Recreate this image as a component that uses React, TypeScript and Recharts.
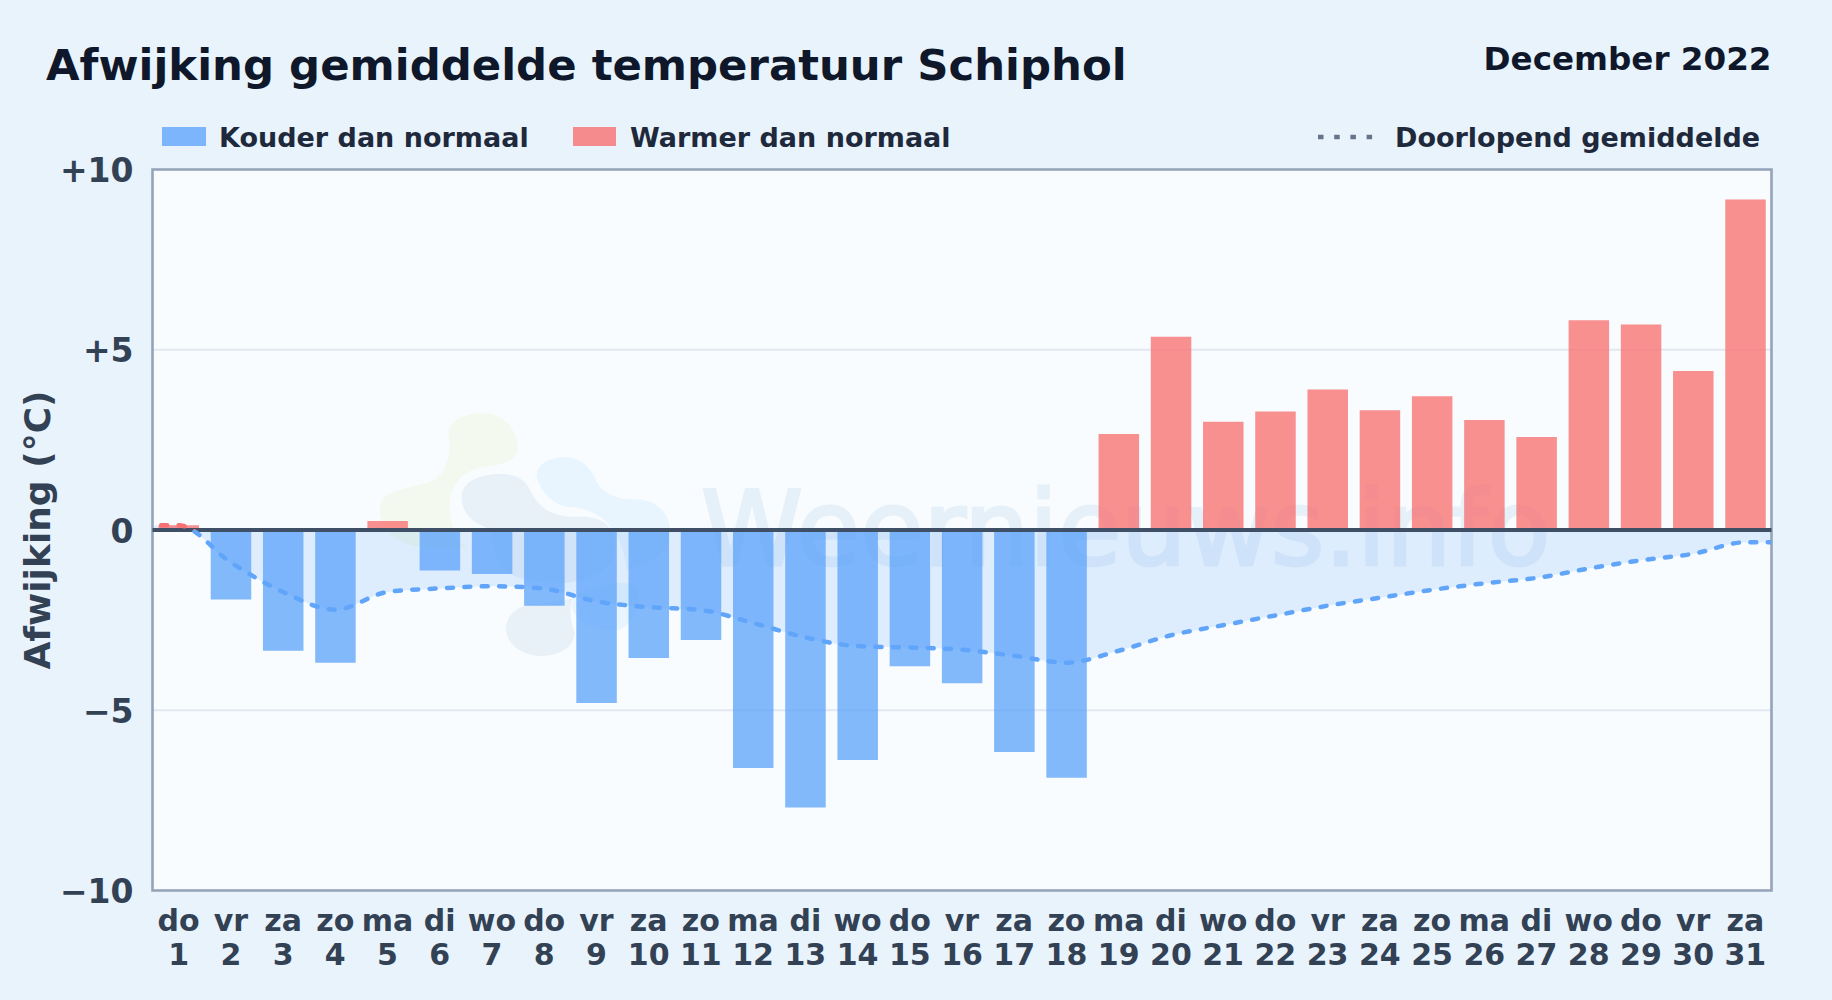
import { ComposedChart, Area, Bar, Line, Cell, XAxis, YAxis, CartesianGrid, ReferenceLine, ReferenceArea } from 'recharts'

const FONT = '"DejaVu Sans", sans-serif'
const BLUE = '#60a5fa'
const RED = '#f87171'

const weekdays = ['do', 'vr', 'za', 'zo', 'ma', 'di', 'wo', 'do', 'vr', 'za', 'zo', 'ma', 'di', 'wo', 'do', 'vr', 'za', 'zo', 'ma', 'di', 'wo', 'do', 'vr', 'za', 'zo', 'ma', 'di', 'wo', 'do', 'vr', 'za']
const days = [1, 2, 3, 4, 5, 6, 7, 8, 9, 10, 11, 12, 13, 14, 15, 16, 17, 18, 19, 20, 21, 22, 23, 24, 25, 26, 27, 28, 29, 30, 31]
const anomaly = [0.13, -1.93, -3.35, -3.68, 0.25, -1.12, -1.22, -2.1, -4.8, -3.55, -3.05, -6.6, -7.7, -6.38, -3.78, -4.25, -6.16, -6.87, 2.66, 5.36, 3.0, 3.29, 3.9, 3.32, 3.71, 3.05, 2.58, 5.82, 5.7, 4.41, 9.17]
const runningMean = [0.13, -0.9, -1.72, -2.21, -1.72, -1.62, -1.56, -1.63, -1.98, -2.14, -2.22, -2.58, -2.98, -3.22, -3.26, -3.32, -3.49, -3.68, -3.35, -2.92, -2.64, -2.37, -2.1, -1.88, -1.66, -1.48, -1.33, -1.07, -0.84, -0.66, -0.34]
const yTicks = [-10, -5, 0, 5, 10]

// extra rows outside the x domain so the running mean runs on to the plot edges (clipped there)
const rows = [
  { day: 0, mean: runningMean[0], value: null as number | null },
  ...days.map((day, i) => ({ day, mean: runningMean[i], value: anomaly[i] as number | null })),
  { day: 32, mean: runningMean[30], value: null as number | null },
]

const formatY = (v: number) => (v > 0 ? `+${v}` : v < 0 ? `\u2212${Math.abs(v)}` : '0')

function DayTick({ x, y, payload }: any) {
  return (
    <text x={x} textAnchor="middle" fontFamily={FONT} fontWeight="bold" fontSize={30} fill="#334155">
      <tspan x={x} y={y + 32}>{weekdays[payload.value - 1]}</tspan>
      <tspan x={x} y={y + 66}>{payload.value}</tspan>
    </text>
  )
}

function Watermark() {
  return (
    <svg width={1832} height={1000} style={{ position: 'absolute', left: 0, top: 0 }}>
      <g transform="translate(360,390) scale(0.3333)">
        <path fill="#f3f9ee" d="M265 130 C265 90 320 68 375 70 C430 72 475 120 472 175 C470 215 420 225 370 232 C320 238 280 270 270 330 C265 400 290 450 320 470 C250 480 150 480 100 440 C60 410 45 350 75 320 C110 295 190 285 225 270 C265 240 275 180 265 130 Z" />
        <path fill="#e8f0f8" d="M305 320 C305 270 370 250 430 252 C480 254 505 280 515 310 C535 350 570 375 630 380 C690 378 740 385 755 425 C780 480 760 530 700 560 C620 590 480 590 420 530 C400 480 400 420 370 408 C330 395 305 360 305 320 Z" />
        <path fill="#e8f0f8" d="M545 640 C480 640 440 670 438 715 C438 765 490 798 545 798 C600 798 640 770 645 730 C630 690 625 650 640 625 C610 630 580 640 545 640 Z" />
        <path fill="#e9f5fe" d="M530 260 C530 220 570 200 620 202 C670 205 695 240 710 275 C730 310 770 330 830 328 C890 330 930 370 930 420 C930 480 880 520 800 540 C790 450 750 365 640 352 C580 350 545 310 530 260 Z" />
        <path fill="#e9f5fe" d="M640 620 C700 590 790 560 830 590 C850 640 820 710 770 720 C710 725 650 700 635 650 Z" />
      </g>
      <text x={701} y={565} fontFamily={FONT} fontSize={103} fill="#2f7fc0" stroke="#2f7fc0" strokeWidth={3} opacity={0.09}>Weernieuws.info</text>
    </svg>
  )
}

function Header() {
  const legend = { fontFamily: FONT, fontWeight: 'bold', fontSize: 27, fill: '#1e293b' }
  return (
    <svg width={1832} height={1000} style={{ position: 'absolute', left: 0, top: 0, pointerEvents: 'none' }}>
      <text x={46} y={79.5} fontFamily={FONT} fontWeight="bold" fontSize={43.4} fill="#0f172a">Afwijking gemiddelde temperatuur Schiphol</text>
      <text x={1771.5} y={70} textAnchor="end" fontFamily={FONT} fontWeight="bold" fontSize={32.6} fill="#0f172a">December 2022</text>
      <rect x={162} y={127} width={44} height={19} fill={BLUE} fillOpacity={0.8} />
      <text x={219} y={146.5} {...legend}>Kouder dan normaal</text>
      <rect x={573} y={127} width={43} height={19} fill={RED} fillOpacity={0.8} />
      <text x={630} y={146.5} {...legend}>Warmer dan normaal</text>
      <line x1={1318} x2={1373} y1={137} y2={137} stroke="#64748b" strokeWidth={4.5} strokeDasharray="5.5 10.7" />
      <text x={1395} y={146.5} {...legend}>Doorlopend gemiddelde</text>
    </svg>
  )
}

export default function App() {
  return (
    <div style={{ position: 'absolute', left: 0, top: 0, width: 1832, height: 1000, overflow: 'hidden', background: '#e8f3fc' }}>
      <div style={{ position: 'absolute', left: 152.5, top: 169.5, width: 1619, height: 721, background: '#f8fcff' }} />
      <Watermark />
      <div style={{ position: 'absolute', left: 0, top: 0 }}>
        <ComposedChart
          width={1832}
          height={1000}
          data={rows}
          margin={{ top: 169.5, right: 60.5, bottom: 0, left: 0 }}
        >
          <defs>
            <linearGradient id="meanStroke" gradientUnits="userSpaceOnUse" x1="0" x2="0" y1="169.5" y2="890.5">
              <stop offset="0.5" stopColor={RED} />
              <stop offset="0.5" stopColor={BLUE} />
            </linearGradient>
          </defs>
          <CartesianGrid horizontal vertical={false} stroke="#e2e8f0" strokeWidth={2} />
          <XAxis
            dataKey="day"
            type="number"
            domain={[0.5, 31.5]}
            allowDataOverflow
            ticks={days}
            interval={0}
            height={109.5}
            axisLine={false}
            tickLine={false}
            tick={<DayTick />}
          />
          <YAxis
            type="number"
            domain={[-10, 10]}
            ticks={yTicks}
            width={152.5}
            axisLine={false}
            tickLine={false}
            tickMargin={13}
            tickFormatter={formatY}
            tick={{ fontFamily: FONT, fontWeight: 'bold', fontSize: 33, fill: '#334155', dy: 1 }}
            label={{ value: 'Afwijking (°C)', angle: -90, position: 'insideLeft', dx: 32, fontFamily: FONT, fontWeight: 'bold', fontSize: 36, fill: '#334155', style: { textAnchor: 'middle' } }}
          />
          <Area dataKey="mean" type="monotone" baseValue={0} stroke="none" fill={BLUE} fillOpacity={0.17} isAnimationActive={false} dot={false} activeDot={false} />
          <Bar dataKey="value" barSize={40.5} isAnimationActive={false}>
            {rows.map((row) => (
              <Cell key={`cell-${row.day}`} fill={(row.value ?? 0) < 0 ? BLUE : RED} fillOpacity={0.78} />
            ))}
          </Bar>
          <ReferenceLine y={0} stroke="#3f4f66" strokeWidth={4} />
          <Line dataKey="mean" type="monotone" stroke="url(#meanStroke)" strokeWidth={4.5} strokeLinecap="round" strokeDasharray="6 11.4" dot={false} activeDot={false} isAnimationActive={false} />
          <ReferenceArea x1={0.5} x2={31.5} y1={-10} y2={10} fill="none" stroke="#94a3b8" strokeWidth={2.6} />
        </ComposedChart>
      </div>
      <Header />
    </div>
  )
}
